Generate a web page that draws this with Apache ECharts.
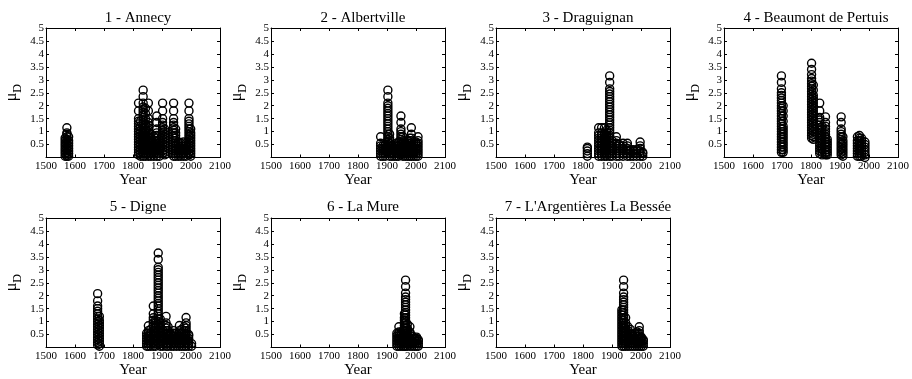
<!DOCTYPE html>
<html>
<head>
<meta charset="utf-8">
<script src="https://cdn.jsdelivr.net/npm/echarts@6/dist/echarts.min.js"></script>
<style>
html,body{margin:0;padding:0;background:#fff;}
#chart{width:912px;height:379px;}
</style>
</head>
<body>
<div id="chart"></div>
<script>
// ---- data: [year, [mu_D values]] columns ----
const siteTitles = ['1 - Annecy', '2 - Albertville', '3 - Draguignan', '4 - Beaumont de Pertuis',
                    '5 - Digne', '6 - La Mure', "7 - L'Argentières La Bessée"];

const annecyCols = [
  [1566,[0.05,0.15,0.25,0.35,0.45,0.55,0.65,0.75]],
  [1572,[0.05,0.1,0.2,0.3,0.4,0.5,0.6,0.7,0.8,0.9,0.95,1.15]],
  [1578,[0.05,0.15,0.25,0.35,0.45,0.55,0.65,0.8]],
  [1819,[0.1,0.2,0.3,0.4,0.5,0.6,0.7,0.8,0.9,1.0,1.1,1.2,1.3,1.4,1.5,1.8,2.1]],
  [1826,[0.05,0.15,0.25,0.35,0.45,0.55,0.65,0.75,0.85,0.95,1.05,1.2,1.4]],
  [1835,[0.05,0.15,0.25,0.35,0.45,0.55,0.65,0.75,0.85,0.95,1.05,1.15,1.25,1.35,1.45,1.55,1.65,1.75,1.85,1.95,2.1,2.35,2.6]],
  [1843,[0.05,0.15,0.25,0.35,0.45,0.55,0.65,0.75,0.85,0.95,1.05,1.15,1.3,1.5,1.7,1.9]],
  [1853,[0.05,0.15,0.25,0.35,0.45,0.55,0.65,0.75,0.85,0.95,1.05,1.15,1.25,1.35,1.5,1.8,2.1]],
  [1862,[0.05,0.15,0.25,0.35,0.45,0.55,0.65,0.75,0.9]],
  [1872,[0.05,0.15,0.25,0.35,0.45,0.55,0.65,0.8]],
  [1882,[0.05,0.15,0.25,0.35,0.45,0.55,0.65,0.75,0.85,0.95,1.1,1.35,1.6]],
  [1891,[0.05,0.15,0.25,0.35,0.45,0.55,0.7]],
  [1902,[0.15,0.25,0.35,0.45,0.55,0.65,0.75,0.85,0.95,1.05,1.15,1.25,1.35,1.5,1.8,2.1]],
  [1909,[0.1,0.2,0.3,0.4,0.5,0.6,0.7,0.8,0.9,1.0,1.1]],
  [1940,[0.05,0.15,0.25,0.35,0.45,0.55,0.65,0.75,0.85,0.95,1.05,1.15,1.25,1.35,1.5,1.8,2.1]],
  [1947,[0.05,0.15,0.25,0.35,0.45,0.55,0.65,0.75,0.85,0.95,1.1]],
  [1956,[0.05,0.15,0.25,0.35,0.45,0.55,0.6]],
  [1965,[0.05,0.15,0.25,0.35,0.45,0.55]],
  [1974,[0.05,0.15,0.25,0.35,0.45,0.6]],
  [1983,[0.05,0.15,0.25,0.35,0.45,0.55]],
  [1993,[0.1,0.2,0.3,0.4,0.5,0.6,0.7,0.8,0.9,1.0,1.1,1.2,1.3,1.4,1.5,1.8,2.1]],
  [1999,[0.05,0.15,0.25,0.35,0.45,0.55,0.65,0.75,0.85,0.95,1.1]]
];

const albertvilleCols = [
  [1878,[0.05,0.15,0.25,0.35,0.45,0.55,0.8]],
  [1886,[0.05,0.15,0.25,0.35,0.45]],
  [1894,[0.05,0.15,0.25,0.35,0.45,0.5]],
  [1903,[0.3,0.4,0.5,0.6,0.7,0.8,0.9,1.0,1.1,1.2,1.3,1.4,1.5,1.6,1.7,1.8,1.9,2.0,2.1,2.35,2.6]],
  [1909,[0.05,0.15,0.25,0.35,0.45,0.55,0.65,0.75,0.9]],
  [1917,[0.05,0.15,0.25,0.35,0.45]],
  [1925,[0.05,0.15,0.25,0.35,0.45]],
  [1933,[0.05,0.15,0.25,0.35,0.45,0.55]],
  [1940,[0.05,0.15,0.25,0.35,0.45,0.55,0.6]],
  [1948,[0.1,0.2,0.3,0.4,0.5,0.6,0.7,0.8,0.9,1.0,1.1,1.35,1.6]],
  [1955,[0.05,0.15,0.25,0.35,0.45,0.55,0.65,0.8]],
  [1963,[0.05,0.15,0.25,0.35,0.45,0.55]],
  [1971,[0.05,0.15,0.25,0.35,0.45,0.55,0.65]],
  [1978,[0.05,0.15,0.25,0.35,0.45,0.55,0.65,0.75]],
  [1984,[0.05,0.15,0.25,0.35,0.45,0.55,0.65,0.75,0.9,1.15]],
  [1992,[0.05,0.15,0.25,0.35,0.45,0.55]],
  [2000,[0.05,0.15,0.25,0.35,0.45,0.55,0.6]],
  [2007,[0.05,0.15,0.25,0.35,0.45,0.55,0.65,0.8]]
];

const draguignanCols = [
  [1815,[0.05,0.15,0.25,0.35,0.4]],
  [1854,[0.05,0.15,0.25,0.35,0.45,0.55,0.65,0.75,0.85,0.95,1.15]],
  [1864,[0.05,0.15,0.25,0.35,0.45,0.55,0.65,0.75,0.85,0.95,1.15]],
  [1874,[0.05,0.15,0.25,0.35,0.45,0.55,0.65,0.75,0.85,0.95,1.15]],
  [1882,[0.05,0.15,0.25,0.35,0.45,0.55,0.65,0.75,0.85,0.95,1.05]],
  [1892,[0.05,0.15,0.25,0.35,0.45,0.55,0.65,0.75,0.85,0.95,1.05,1.15,1.25,1.35,1.45,1.55,1.65,1.75,1.85,1.95,2.05,2.15,2.25,2.35,2.45,2.55,2.65,2.9,3.15]],
  [1900,[0.05,0.15,0.25,0.35,0.45,0.55,0.65]],
  [1915,[0.05,0.15,0.25,0.35,0.45,0.55,0.65,0.8]],
  [1925,[0.05,0.15,0.25,0.35,0.45,0.5]],
  [1938,[0.05,0.15,0.25,0.35,0.45,0.55]],
  [1953,[0.05,0.15,0.25,0.35,0.45,0.55]],
  [1963,[0.05,0.15,0.25,0.3]],
  [1973,[0.05,0.15,0.25,0.3]],
  [1985,[0.05,0.15,0.25,0.3]],
  [1997,[0.05,0.15,0.25,0.35,0.45,0.6]],
  [2006,[0.05,0.15,0.2]]
];

const beaumontCols = [
  [1698,[0.2,0.3,0.4,0.5,0.6,0.7,0.8,0.9,1.0,1.1,1.2,1.3,1.4,1.5,1.6,1.7,1.8,1.9,2.0,2.1,2.2,2.3,2.4,2.5,2.65,2.9,3.15]],
  [1704,[0.2,0.3,0.4,0.5,0.6,0.7,0.8,0.9,1.0,1.1,1.2,1.4,1.6,1.8,2.0]],
  [1802,[0.75,0.85,0.95,1.05,1.15,1.25,1.35,1.45,1.55,1.65,1.75,1.85,1.95,2.05,2.15,2.25,2.35,2.45,2.55,2.65,2.75,2.85,2.95,3.05,3.2,3.4,3.64]],
  [1808,[0.7,0.8,0.9,1.0,1.1,1.2,1.3,1.4,1.5,1.6,1.7,1.8,1.9,2.0,2.1,2.2,2.3,2.4,2.6,2.8]],
  [1830,[0.15,0.25,0.35,0.45,0.55,0.65,0.75,0.85,0.95,1.05,1.15,1.25,1.35,1.45,1.55,1.8,2.1]],
  [1838,[0.1,0.2,0.3,0.4,0.5,0.6,0.7,0.8,0.9,1.0,1.1,1.2]],
  [1850,[0.1,0.2,0.3,0.4,0.5,0.6,0.7,0.8,0.9,1.0,1.1,1.2,1.35,1.57]],
  [1856,[0.1,0.2,0.3,0.4,0.5,0.6,0.7]],
  [1904,[0.1,0.2,0.3,0.4,0.5,0.6,0.7,0.8,0.9,1.0,1.1,1.35,1.57]],
  [1910,[0.05,0.15,0.25,0.35,0.45,0.55,0.65,0.8]],
  [1960,[0.05,0.15,0.25,0.35,0.45,0.55,0.65,0.8]],
  [1967,[0.05,0.15,0.25,0.35,0.45,0.55,0.65,0.75,0.85]],
  [1974,[0.05,0.15,0.25,0.35,0.45,0.55,0.65,0.75]],
  [1986,[0.0,0.1,0.2,0.3,0.4,0.5,0.6]]
];

const digneCols = [
  [1678,[0.1,0.2,0.3,0.4,0.5,0.6,0.7,0.8,0.9,1.0,1.1,1.2,1.3,1.4,1.5,1.6,1.8,2.08]],
  [1684,[0.05,0.15,0.25,0.35,0.45,0.55,0.65,0.75,0.85,0.95,1.05,1.2]],
  [1847,[0.05,0.15,0.25,0.35,0.45,0.55]],
  [1853,[0.05,0.15,0.25,0.35,0.45,0.55,0.65,0.84]],
  [1861,[0.05,0.15,0.25,0.35,0.45,0.55,0.7]],
  [1870,[0.05,0.15,0.25,0.35,0.45,0.55,0.65,0.75,0.85,0.95,1.05,1.15,1.3,1.6]],
  [1878,[0.05,0.15,0.25,0.35,0.45,0.55,0.65,0.75,0.85,0.95,1.05]],
  [1887,[0.1,0.2,0.3,0.4,0.5,0.6,0.7,0.8,0.9,1.0,1.1,1.2,1.3,1.4,1.5,1.6,1.7,1.8,1.9,2.0,2.1,2.2,2.3,2.4,2.5,2.6,2.7,2.8,2.9,3.0,3.1,3.4,3.65]],
  [1894,[0.05,0.15,0.25,0.35,0.45,0.55,0.65,0.75,0.85,0.95,1.1]],
  [1903,[0.05,0.15,0.25,0.35,0.45,0.55,0.65]],
  [1914,[0.05,0.15,0.25,0.35,0.45,0.55,0.65,0.75,0.85,0.95,1.2]],
  [1921,[0.05,0.15,0.25,0.35,0.45,0.55,0.65,0.8]],
  [1931,[0.05,0.15,0.25,0.35,0.45,0.5]],
  [1940,[0.05,0.15,0.25,0.35,0.45,0.55,0.65]],
  [1950,[0.05,0.15,0.25,0.35,0.45,0.55]],
  [1960,[0.05,0.15,0.25,0.35,0.45,0.55,0.65,0.85]],
  [1968,[0.05,0.15,0.25,0.35,0.45,0.55,0.7]],
  [1976,[0.05,0.15,0.25,0.35,0.45,0.55,0.65,0.8]],
  [1983,[0.05,0.15,0.25,0.35,0.45,0.55,0.65,0.75,0.85,0.95,1.16]],
  [1992,[0.05,0.15,0.25,0.35,0.45,0.5]],
  [2002,[0.05,0.15]]
];

const laMureCols = [
  [1934,[0.05,0.15,0.25,0.35,0.45,0.55]],
  [1941,[0.05,0.15,0.25,0.35,0.45,0.55,0.6,0.8]],
  [1948,[0.05,0.15,0.25,0.35,0.45,0.55]],
  [1955,[0.05,0.15,0.25,0.35,0.45,0.55,0.65]],
  [1960,[0.05,0.15,0.25,0.35,0.45,0.55,0.65,0.75,0.85,0.95,1.05,1.15,1.3]],
  [1964,[0.05,0.15,0.25,0.35,0.45,0.55,0.65,0.75,0.85,0.95,1.05,1.15,1.25,1.35,1.45,1.55,1.65,1.75,1.85,1.95,2.1,2.35,2.6]],
  [1970,[0.05,0.15,0.25,0.35,0.45,0.55,0.65,0.75,0.9]],
  [1979,[0.05,0.15,0.25,0.35,0.45,0.55,0.6,0.8]],
  [1987,[0.05,0.15,0.25,0.35,0.45]],
  [1995,[0.05,0.15,0.25,0.35]],
  [2002,[0.05,0.15,0.25,0.35,0.4]],
  [2008,[0.05,0.15,0.25,0.3]]
];

const argentieresCols = [
  [1934,[0.05,0.15,0.25,0.35,0.45,0.55,0.65,0.75,0.85,0.95,1.05,1.15,1.25,1.35,1.45]],
  [1940,[0.05,0.15,0.25,0.35,0.45,0.55,0.65,0.75,0.85,0.95,1.05,1.15,1.25,1.35,1.45,1.55,1.65,1.75,1.85,1.95,2.1,2.35,2.6]],
  [1947,[0.05,0.15,0.25,0.35,0.45,0.55,0.65,0.75,0.85,0.95,1.15]],
  [1955,[0.05,0.15,0.25,0.35,0.45,0.55,0.65,0.8]],
  [1963,[0.05,0.15,0.25,0.35,0.45,0.55,0.7]],
  [1971,[0.05,0.15,0.25,0.35,0.45,0.5]],
  [1979,[0.05,0.15,0.25,0.35,0.45,0.55]],
  [1987,[0.05,0.15,0.25,0.35,0.45,0.6]],
  [1994,[0.05,0.15,0.25,0.35,0.45,0.55,0.65,0.8]],
  [2001,[0.05,0.15,0.25,0.35,0.4]],
  [2008,[0.05,0.15,0.25,0.3]]
];

const siteColumns = [annecyCols, albertvilleCols, draguignanCols, beaumontCols, digneCols, laMureCols, argentieresCols];

// ---- layout ----
const FONT = 'Liberation Serif';
const gridLefts = [46, 271, 496, 724, 46, 271, 496];
const gridTops  = [28, 28, 28, 28, 218, 218, 218];
const GW = 174, GH = 129.5;
const titleTops = [6, 6, 6, 6, 195, 195, 195];

const grids = [], xAxes = [], yAxes = [], series = [], titles = [];
const lineStyle = { color: '#000', width: 1 };
siteTitles.forEach((name, i) => {
  grids.push({ left: gridLefts[i], top: gridTops[i], width: GW, height: GH });
  titles.push({ text: name, left: gridLefts[i] + GW / 2, top: titleTops[i], textAlign: 'center',
    textStyle: { fontFamily: FONT, fontSize: 15, fontWeight: 'normal', color: '#000' } });
  const xBase = { type: 'value', gridIndex: i, min: 1500, max: 2100, interval: 100,
    axisLine: { show: true, onZero: false, lineStyle }, splitLine: { show: false },
    axisTick: { show: true, inside: true, length: 3, lineStyle } };
  xAxes.push(Object.assign({}, xBase, { position: 'bottom',
    axisLabel: { show: true, margin: 3, fontFamily: FONT, fontSize: 11, color: '#000',
      formatter: v => String(v) },
    name: 'Year', nameLocation: 'middle', nameGap: 14,
    nameTextStyle: { fontFamily: FONT, fontSize: 15, color: '#000' } }));
  xAxes.push(Object.assign({}, xBase, { position: 'top', axisLabel: { show: false } }));
  const yBase = { type: 'value', gridIndex: i, min: 0, max: 5, interval: 0.5,
    axisLine: { show: true, onZero: false, lineStyle }, splitLine: { show: false },
    axisTick: { show: true, inside: true, length: 3, lineStyle } };
  yAxes.push(Object.assign({}, yBase, { position: 'left',
    axisLabel: { show: true, margin: 2, fontFamily: FONT, fontSize: 11, color: '#000',
      formatter: v => (v === 0 ? '' : String(v)) },
    name: '{m|μ}{d|D}', nameLocation: 'middle', nameGap: 22, nameRotate: 90,
    nameTextStyle: { fontFamily: FONT, color: '#000',
      rich: { m: { fontFamily: FONT, fontSize: 16, color: '#000', verticalAlign: 'middle' },
              d: { fontFamily: FONT, fontSize: 12, color: '#000', lineHeight: 24, verticalAlign: 'bottom' } } } }));
  yAxes.push(Object.assign({}, yBase, { position: 'right', axisLabel: { show: false } }));
  const pts = [];
  siteColumns[i].forEach(([yr, vals]) => vals.forEach(v => pts.push([yr, v])));
  series.push({ type: 'scatter', xAxisIndex: 2 * i, yAxisIndex: 2 * i, data: pts,
    symbol: 'circle', symbolSize: 8, silent: true,
    itemStyle: { color: 'rgba(0,0,0,0)', borderColor: '#000', borderWidth: 1.4, opacity: 1 } });
});

const chart = echarts.init(document.getElementById('chart'), null, { renderer: 'canvas' });
chart.setOption({
  animation: false,
  backgroundColor: '#fff',
  title: titles,
  grid: grids,
  xAxis: xAxes,
  yAxis: yAxes,
  series: series
});
</script>
</body>
</html>
